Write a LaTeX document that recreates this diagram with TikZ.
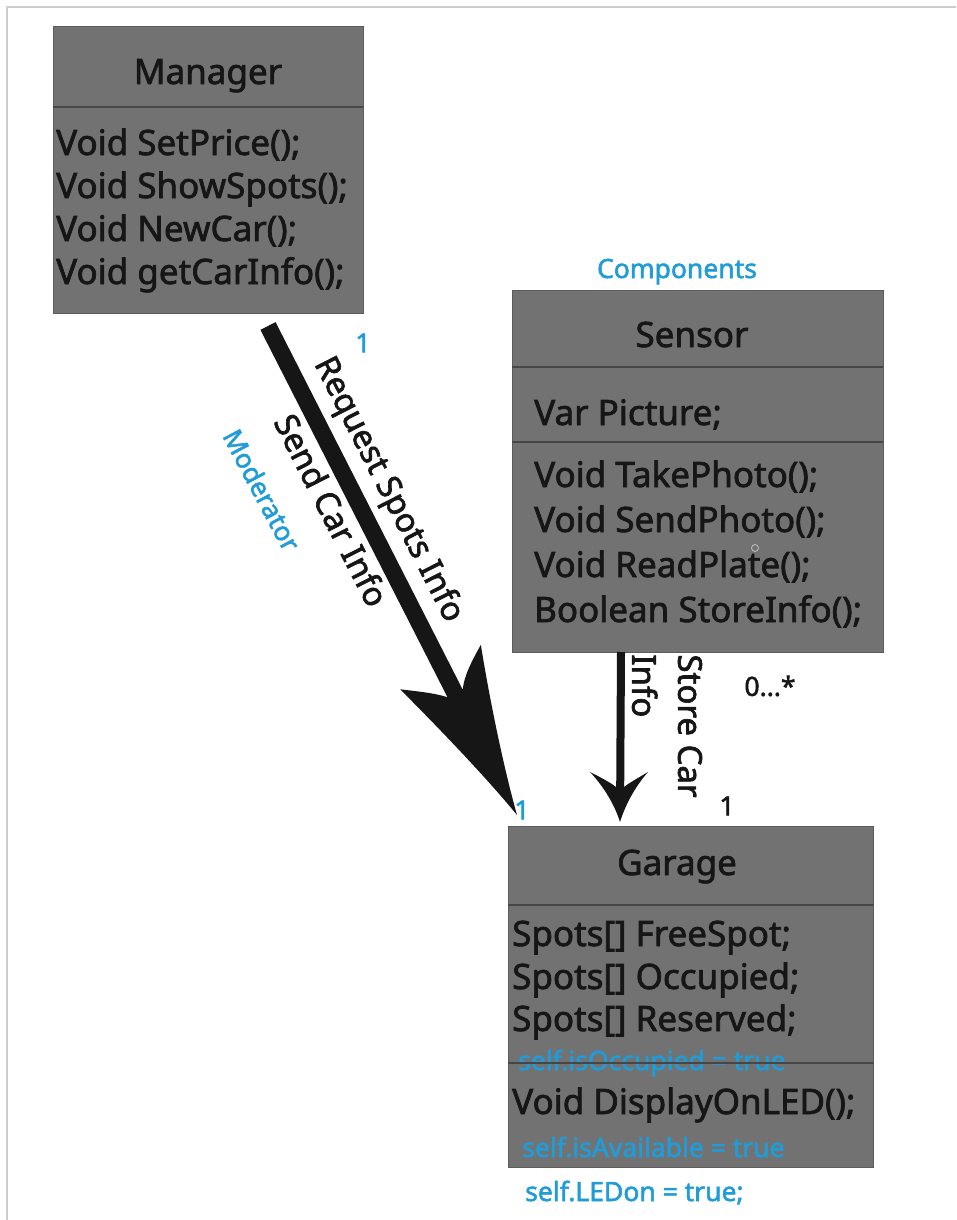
\documentclass[tikz,border=0pt]{standalone}
\usepackage{fontspec}
\setmainfont{Noto Sans}[FakeBold=2]
\usetikzlibrary{calc}

\definecolor{boxfill}{RGB}{114,114,114}
\definecolor{boxedge}{RGB}{92,92,92}
\definecolor{sepcol}{RGB}{70,70,70}
\definecolor{ink}{RGB}{22,22,22}
\definecolor{notecol}{RGB}{32,156,216}
\definecolor{framecol}{RGB}{205,205,205}

\newcommand\memberfont{\fontsize{35}{40}\selectfont}
\newcommand\notefont{\fontsize{26.5}{30}\selectfont}
\newcommand\labelfont{\fontsize{33}{46}\selectfont}

\begin{document}
\begin{tikzpicture}[x=1pt,y=-1pt,
  classbox/.style={draw=boxedge, fill=boxfill, line width=1pt, anchor=north west, inner sep=0pt, outer sep=0pt},
  sepline/.style={draw=sepcol, line width=1.6pt},
  classtitle/.style={font=\memberfont, text=ink, anchor=base, inner sep=0pt},
  member/.style={font=\memberfont, text=ink, anchor=base west, inner sep=0pt},
  note/.style={font=\notefont, text=notecol, inner sep=0pt},
  arrowlabel/.style={font=\labelfont, text=ink, inner sep=0pt},
  shaft/.style={draw=ink, line cap=butt}]

\useasboundingbox (0,0) rectangle (956,1220);
\fill[white] (0,0) rectangle (956,1220);
\draw[framecol, line width=1.2pt] (7,1220) -- (7,7) -- (956,7);

% ---------- Manager ----------
\node[classbox, minimum width=310pt, minimum height=286pt] (manager) at (53,27) {};
\draw[sepline] (53,107) -- (363,107);
\node[classtitle] (managerTitle) at (208,84) {Manager};
\node[member] (m1) at (56,155) {Void SetPrice();};
\node[member] (m2) at (56,198) {Void ShowSpots();};
\node[member] (m3) at (56,241) {Void NewCar();};
\node[member] (m4) at (56,284) {Void getCarInfo();};

% ---------- Sensor ----------
\node[note, anchor=base] (components) at (677,278) {Components};
\node[classbox, minimum width=371pt, minimum height=362pt] (sensor) at (512,290) {};
\draw[sepline] (512,367) -- (883,367);
\draw[sepline] (512,442) -- (883,442);
\node[classtitle] (sensorTitle) at (692,347) {Sensor};
\node[member] (s0) at (534,425) {Var Picture;};
\node[member] (s1) at (534,487) {Void TakePhoto();};
\node[member] (s2) at (534,532) {Void SendPhoto();};
\node[member] (s3) at (534,577) {Void ReadPlate();};
\node[member] (s4) at (534,622) {Boolean StoreInfo();};
\draw[gray!55, line width=0.9pt] (755,548) circle (3.5pt);

% ---------- Garage ----------
\node[classbox, minimum width=365pt, minimum height=341pt] (garage) at (508,826) {};
\draw[sepline] (508,905) -- (873,905);
\node[classtitle] (garageTitle) at (677,875) {Garage};
\node[member] (g1) at (512,946) {Spots[] FreeSpot;};
\node[member] (g2) at (512,989) {Spots[] Occupied;};
\node[member] (g3) at (512,1031) {Spots[] Reserved;};
\node[note, anchor=base west] (occNote) at (518,1070) {self.isOccupied = true};
\draw[sepline] (508,1063) -- (873,1063);
\node[member] (g4) at (512,1114) {Void DisplayOnLED();};
\node[note, anchor=base west] (availNote) at (522,1157) {self.isAvailable = true};
\node[note, anchor=base west] (ledNote) at (525,1201) {self.LEDon = true;};

% ---------- Manager -> Garage ----------
\coordinate (reqStart) at (268,326);
\coordinate (reqEnd) at (517,815);
\draw[shaft, line width=17pt] (reqStart) -- ($(reqEnd)!128pt!(reqStart)$);
\begin{scope}[shift={(reqEnd)}, rotate=117.0]
  \fill[ink] (0,0) .. controls (50,10) and (115,28) .. (168,45)
    .. controls (158,30) and (148,16) .. (137,9) -- (137,-9)
    .. controls (146,-18) and (155,-32) .. (165,-47)
    .. controls (112,-30) and (50,-11) .. (0,0) -- cycle;
\end{scope}
\node[arrowlabel, rotate=-63] (reqLabel) at (388,490) {Request Spots Info};
\node[arrowlabel, rotate=-63] (sendLabel) at (332,510) {Send Car Info};
\node[note, rotate=-62] (moderator) at (262,490) {Moderator};
\node[note] (mult1) at (363,343) {1};
\node[note] (mult2) at (522,810) {1};

% ---------- Sensor -> Garage ----------
\coordinate (storeStart) at (621,652);
\coordinate (storeEnd) at (620,822);
\draw[shaft, line width=8pt] (storeStart) -- ($(storeEnd)!32pt!(storeStart)$);
\begin{scope}[shift={(storeEnd)}, rotate=90]
  \fill[ink] (0,0) .. controls (16,5) and (34,14) .. (50,28)
    .. controls (44,18) and (39,9) .. (35,4) -- (35,-4)
    .. controls (39,-9) and (44,-18) .. (50,-30)
    .. controls (34,-15) and (16,-5) .. (0,0) -- cycle;
\end{scope}
\node[arrowlabel, rotate=-90, align=left] (storeLabel) at (667,726) {Store Car\\Info};
\node[note, text=ink] (mult3) at (770,686) {0...*};
\node[note, text=ink] (mult4) at (727,806) {1};

\end{tikzpicture}
\end{document}
